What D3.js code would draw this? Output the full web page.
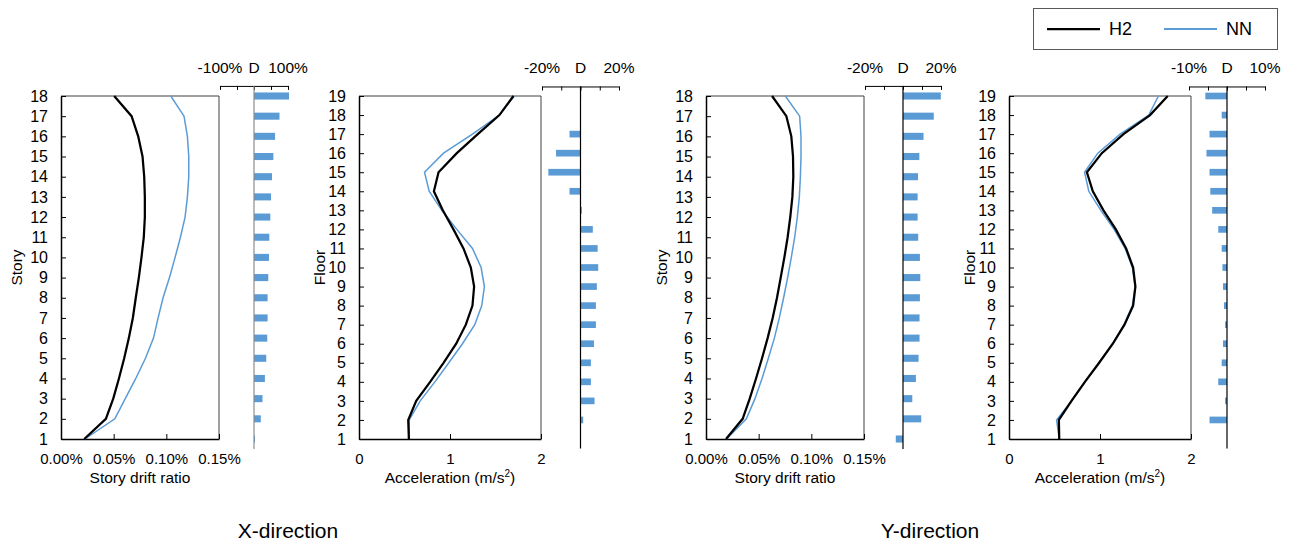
<!DOCTYPE html>
<html>
<head>
<meta charset="UTF-8">
<title>Story drift and floor acceleration</title>
<script src="https://d3js.org/d3.v7.min.js"></script>
<style>
  body { margin: 0; background: #fff; }
  svg { font-family: "Liberation Sans", Arial, sans-serif; }
</style>
</head>
<body>
<svg id="chart" width="1291" height="545"></svg>
<script>
// categories
var stories = [1, 2, 3, 4, 5, 6, 7, 8, 9, 10, 11, 12, 13, 14, 15, 16, 17, 18];
var floors = [1, 2, 3, 4, 5, 6, 7, 8, 9, 10, 11, 12, 13, 14, 15, 16, 17, 18, 19];

// X-direction (drift in %, acceleration in m/s2, D = difference in %)
var driftX_H2 = [0.0221, 0.0426, 0.0496, 0.055, 0.060, 0.0644, 0.0682, 0.071, 0.0739, 0.0764, 0.0786, 0.0796, 0.0796, 0.079, 0.0774, 0.0733, 0.067, 0.0505];
var driftX_NN = [0.0227, 0.0511, 0.061, 0.071, 0.0802, 0.0878, 0.0922, 0.0969, 0.103, 0.1083, 0.1134, 0.1178, 0.12, 0.1213, 0.1213, 0.12, 0.1168, 0.1042];
var driftX_D = [3, 20, 25, 32, 36, 39, 40, 40, 42, 44, 45, 48, 50, 53, 57, 62, 75, 103];

var accX_H2 = [0.548, 0.541, 0.629, 0.782, 0.929, 1.068, 1.174, 1.247, 1.265, 1.229, 1.148, 1.038, 0.921, 0.823, 0.874, 1.075, 1.305, 1.543, 1.697];
var accX_NN = [0.552, 0.552, 0.673, 0.834, 0.987, 1.137, 1.272, 1.349, 1.378, 1.342, 1.247, 1.075, 0.910, 0.771, 0.720, 0.929, 1.247, 1.543, 1.707];
var accX_D = [0, 1.4, 7.3, 5.4, 5.4, 7, 8, 8, 8.5, 9.2, 8.9, 6.4, 0.7, -5.7, -16.7, -12.7, -5.7, 0, 0.3];

// Y-direction
var driftY_H2 = [0.019, 0.0348, 0.0415, 0.0475, 0.0532, 0.0585, 0.0633, 0.0674, 0.0709, 0.0744, 0.0775, 0.080, 0.082, 0.0829, 0.0826, 0.081, 0.0763, 0.0627];
var driftY_NN = [0.0196, 0.0383, 0.0465, 0.0532, 0.0592, 0.0649, 0.0696, 0.0737, 0.0775, 0.081, 0.0842, 0.0867, 0.0886, 0.0896, 0.0902, 0.0902, 0.0889, 0.0753];
var driftY_D = [-3.8, 9.6, 4.9, 6.8, 8.2, 8.7, 8.7, 8.9, 9.1, 8.9, 8, 7.7, 7.7, 7.9, 8.6, 10.8, 16.2, 19.9];

var accY_H2 = [0.552, 0.548, 0.687, 0.834, 0.991, 1.141, 1.269, 1.364, 1.389, 1.364, 1.287, 1.174, 1.038, 0.921, 0.856, 1.02, 1.258, 1.55, 1.744];
var accY_NN = [0.552, 0.523, 0.687, 0.837, 0.987, 1.137, 1.265, 1.356, 1.386, 1.356, 1.276, 1.155, 1.009, 0.877, 0.830, 0.976, 1.221, 1.536, 1.642];
var accY_D = [0, -4.6, -0.5, -2.3, -1.4, -1.05, -0.5, -0.8, -1.05, -1.2, -1.4, -2.3, -3.9, -4.4, -4.6, -5.4, -4.6, -1.4, -5.7];

// tick values
var driftTicks = [0, 0.05, 0.10, 0.15];
var accTicks = [0, 1, 2];

var blue = "#5b9bd5";
var fs = 15;
var svg = d3.select("#chart");

var panels = [
  { cats: stories, h2: driftX_H2, nn: driftX_NN, d: driftX_D, xMax: 0.15, xTicks: driftTicks, fmt: function(v) { return v.toFixed(2) + "%"; },
    yTitle: "Story", xTitle: "Story drift ratio", left: 61, right: 219, titleX: 17,
    bar: { x0: 220, x1: 288, max: 100, step: 50, zeroColor: "#8c8c8c" } },
  { cats: floors, h2: accX_H2, nn: accX_NN, d: accX_D, xMax: 2, xTicks: accTicks, fmt: function(v) { return v; },
    yTitle: "Floor", xTitle: "acc", left: 359, right: 541, titleX: 320,
    bar: { x0: 542, x1: 619, max: 20, step: 10, zeroColor: "#000" } },
  { cats: stories, h2: driftY_H2, nn: driftY_NN, d: driftY_D, xMax: 0.15, xTicks: driftTicks, fmt: function(v) { return v.toFixed(2) + "%"; },
    yTitle: "Story", xTitle: "Story drift ratio", left: 706, right: 864, titleX: 662,
    bar: { x0: 865, x1: 941, max: 20, step: 10, zeroColor: "#000" } },
  { cats: floors, h2: accY_H2, nn: accY_NN, d: accY_D, xMax: 2, xTicks: accTicks, fmt: function(v) { return v; },
    yTitle: "Floor", xTitle: "acc", left: 1009, right: 1191, titleX: 970,
    bar: { x0: 1189, x1: 1265, max: 10, step: 5, zeroColor: "#000" } }
];

var plotTop = 96, plotBottom = 439;

panels.forEach(function(p) {
  var g = svg.append("g");
  var n = p.cats.length;

  var x = d3.scaleLinear().domain([0, p.xMax]).range([p.left, p.right]);
  var y = d3.scaleLinear().domain([1, n]).range([plotBottom, plotTop]);

  // frame (top and right)
  g.append("line").attr("x1", p.left).attr("x2", p.right).attr("y1", plotTop).attr("y2", plotTop)
    .attr("stroke", "#404040").attr("stroke-width", 1);
  g.append("line").attr("x1", p.right).attr("x2", p.right).attr("y1", plotTop).attr("y2", plotBottom)
    .attr("stroke", "#404040").attr("stroke-width", 1);

  // left axis, ticks pointing inwards
  var yAxis = g.append("g").attr("transform", "translate(" + p.left + ",0)")
    .call(d3.axisRight(y).tickValues(p.cats).tickSize(5).tickSizeOuter(0).tickFormat(d3.format("d")));
  yAxis.attr("font-family", null).attr("font-size", null);
  yAxis.select(".domain").attr("stroke", "#000").attr("stroke-width", 1.5);
  yAxis.selectAll(".tick line").attr("stroke", "#000");
  yAxis.selectAll(".tick text").attr("x", -13).attr("text-anchor", "end")
    .attr("font-size", 16).attr("fill", "#000");

  // bottom axis, ticks pointing inwards
  var xAxis = g.append("g").attr("transform", "translate(0," + plotBottom + ")")
    .call(d3.axisTop(x).tickValues(p.xTicks).tickSize(5).tickSizeOuter(0).tickFormat(p.fmt));
  xAxis.attr("font-family", null).attr("font-size", null);
  xAxis.select(".domain").attr("stroke", "#000").attr("stroke-width", 1.5);
  xAxis.selectAll(".tick line").attr("stroke", "#000");
  xAxis.selectAll(".tick text").attr("y", 25).attr("dy", 0)
    .attr("font-size", fs).attr("fill", "#000");

  // axis titles
  g.append("text").attr("transform", "translate(" + p.titleX + "," + ((plotTop + plotBottom) / 2) + ") rotate(-90)")
    .attr("text-anchor", "middle").attr("dy", "0.35em").attr("font-size", 15.5).text(p.yTitle);
  var xt = g.append("text").attr("x", (p.left + p.right) / 2).attr("y", 483)
    .attr("text-anchor", "middle").attr("font-size", 15.5);
  if (p.xTitle === "acc") {
    xt.append("tspan").text("Acceleration (m/s");
    xt.append("tspan").attr("font-size", 10).attr("dy", -6).text("2");
    xt.append("tspan").attr("dy", 6).text(")");
  } else {
    xt.text(p.xTitle);
  }

  // lines
  var line = function(vals) {
    return d3.line()
      .x(function(d) { return x(d); })
      .y(function(d, i) { return y(p.cats[i]); })(vals);
  };
  g.append("path").attr("d", line(p.nn)).attr("fill", "none").attr("stroke", blue).attr("stroke-width", 1.5);
  g.append("path").attr("d", line(p.h2)).attr("fill", "none").attr("stroke", "#000").attr("stroke-width", 2.25);

  // difference bar panel
  var b = p.bar;
  var bx = d3.scaleLinear().domain([-b.max, b.max]).range([b.x0, b.x1]);
  var step = (plotBottom - plotTop) / (n - 1);
  var by = d3.scaleBand().domain(p.cats.slice().reverse())
    .range([plotTop - step / 2, plotBottom + step / 2]).paddingInner(0.65).paddingOuter(0.325);

  g.selectAll(".dbar").data(p.d).enter().append("rect")
    .attr("x", function(d) { return Math.min(bx(0), bx(d)); })
    .attr("width", function(d) { return Math.abs(bx(d) - bx(0)); })
    .attr("y", function(d, i) { return by(p.cats[i]); })
    .attr("height", by.bandwidth())
    .attr("fill", blue);

  var ticks = d3.range(-b.max, b.max + b.step / 2, b.step);
  var topAxis = g.append("g").attr("transform", "translate(0," + (plotTop - step / 2) + ")")
    .call(d3.axisBottom(bx).tickValues(ticks).tickSize(4).tickSizeOuter(0).tickFormat(""));
  topAxis.select(".domain").attr("stroke", "#000");
  topAxis.selectAll(".tick line").attr("stroke", "#000");

  g.append("line").attr("x1", bx(0)).attr("x2", bx(0))
    .attr("y1", plotTop - step / 2).attr("y2", plotBottom + step / 2)
    .attr("stroke", b.zeroColor).attr("stroke-width", 1.2);

  var labels = [[-b.max, "-" + b.max + "%"], [0, "D"], [b.max, b.max + "%"]];
  g.selectAll(".blab").data(labels).enter().append("text")
    .attr("x", function(d) { return bx(d[0]); })
    .attr("y", 73)
    .attr("text-anchor", "middle").attr("font-size", 15.5)
    .text(function(d) { return d[1]; });
});

// direction captions
svg.append("text").attr("x", 288).attr("y", 538).attr("text-anchor", "middle").attr("font-size", 21).text("X-direction");
svg.append("text").attr("x", 930).attr("y", 538).attr("text-anchor", "middle").attr("font-size", 21).text("Y-direction");

// legend
var legend = svg.append("g");
legend.append("rect").attr("x", 1033.5).attr("y", 8.5).attr("width", 244).attr("height", 41)
  .attr("fill", "#fff").attr("stroke", "#595959");
var legendItems = [["H2", "#000", 2.25, 1047], ["NN", blue, 2, 1164]];
legendItems.forEach(function(it) {
  legend.append("line").attr("x1", it[3]).attr("x2", it[3] + 53).attr("y1", 29).attr("y2", 29)
    .attr("stroke", it[1]).attr("stroke-width", it[2]);
  legend.append("text").attr("x", it[3] + 62).attr("y", 29).attr("dy", "0.35em")
    .attr("font-size", 18).text(it[0]);
});
</script>
</body>
</html>
